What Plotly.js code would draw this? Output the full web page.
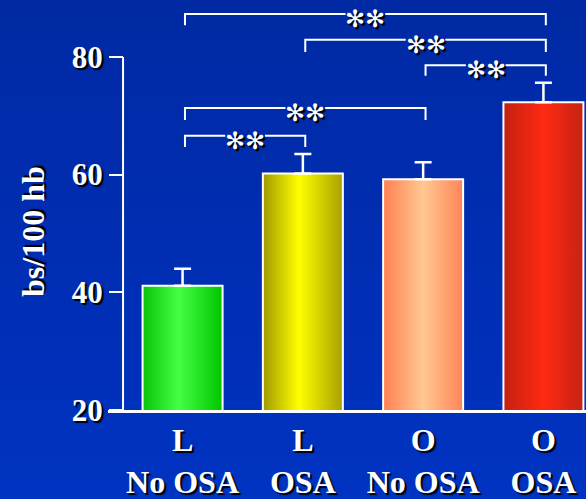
<!DOCTYPE html>
<html>
<head>
<meta charset="utf-8">
<script src="https://cdn.plot.ly/plotly-3.0.1.min.js"></script>
<style>
  html, body { margin:0; padding:0; }
  body { width:586px; height:499px; background: linear-gradient(to bottom, #0029a3, #0033c2); overflow:hidden; }
  #chart { width:586px; height:499px; }
</style>
</head>
<body>
<div id="chart"></div>
<script>
// ---- data ----
const categories = ['L<br>No OSA', 'L<br>OSA', 'O<br>No OSA', 'O<br>OSA'];
const means = [41.1, 60.2, 59.2, 72.3];
const semUp = [2.9, 3.3, 2.9, 3.3];
const yTicks = [20, 40, 60, 80];
// significance comparisons: [from index, to index]
const comparisons = [[0, 3], [1, 3], [2, 3], [0, 2], [0, 1]];
const sigLabels = ['**', '**', '**', '**', '**'];
// bracket heights (value units): top line and end of the drop
const bracketTop = [87.3, 82.9, 78.6, 71.3, 66.6];
const bracketEnd = [85.4, 80.85, 76.8, 69.3, 64.7];

// ---- styles ----
const midColors = ['#3cf83c', '#f4f400', '#ffbf8a', '#fa2a12'];
const gradients = [
  [['0', '#08c408'], ['0.45', '#44ff44'], ['1', '#00c400']],
  [['0', '#a09a00'], ['0.45', '#ffff00'], ['1', '#a8a000']],
  [['0', '#ff7f50'], ['0.5', '#ffc892'], ['1', '#ff8456']],
  [['0', '#c42010'], ['0.5', '#ff2a12'], ['1', '#c62212']]
];
const serif = 'Liberation Serif, Times New Roman, serif';
const shadow = '2px 2px 1px #000';
const xIdx = categories.map((_, i) => i);
const off = 0.02, gap = 0.165;

const shapes = [];
const annotations = [];
comparisons.forEach((c, k) => {
  const x0 = c[0] + off, x1 = c[1] + off, mid = (x0 + x1) / 2;
  const t = bracketTop[k], e = bracketEnd[k];
  shapes.push({
    type: 'path', xref: 'x', yref: 'y',
    path: `M ${x0},${e} L ${x0},${t} L ${mid - gap},${t} M ${mid + gap},${t} L ${x1},${t} L ${x1},${e}`,
    line: {color: 'white', width: 2}
  });
  annotations.push({
    x: mid, y: t, xref: 'x', yref: 'y', text: sigLabels[k].replace(/\*/g, '\u273B'),
    showarrow: false, yshift: -5,
    font: {family: 'DejaVu Sans', size: 24, color: 'white', shadow: shadow}
  });
});
// y axis line from 20 to 80
shapes.push({type: 'line', xref: 'x', yref: 'y', x0: -0.495, x1: -0.495, y0: yTicks[0], y1: yTicks[yTicks.length - 1],
  line: {color: 'white', width: 2}});

annotations.push({
  xref: 'paper', yref: 'paper', x: (33 - 108) / 478, y: (410 - 232) / 410, xanchor: 'center', yanchor: 'middle',
  text: 'bs/100 hb', textangle: -90, showarrow: false,
  font: {family: serif, size: 32, color: 'white', weight: 'bold', shadow: shadow}
});

const trace = {
  type: 'bar', x: xIdx, y: means, width: 0.665,
  marker: {color: midColors, line: {color: 'white', width: 2}},
  error_y: {type: 'data', symmetric: false, array: semUp, arrayminus: semUp.map(() => 0),
    color: 'white', thickness: 2.5, width: 8.5},
  hoverinfo: 'none'
};

const layout = {
  width: 586, height: 499,
  margin: {l: 108, r: 0, t: 0, b: 89},
  paper_bgcolor: 'rgba(0,0,0,0)', plot_bgcolor: 'rgba(0,0,0,0)',
  showlegend: false,
  xaxis: {
    range: [-0.62, 3.354], tickvals: xIdx, ticktext: categories,
    showline: true, linecolor: 'white', linewidth: 2.5, ticks: '', showgrid: false, zeroline: false,
    tickfont: {family: serif, size: 32, color: 'white', weight: 'bold', shadow: shadow},
    ticklabelstandoff: 0, fixedrange: true
  },
  yaxis: {
    range: [20, 89.67], tickvals: yTicks, anchor: 'free', position: 15 / 478,
    showline: false, ticks: 'outside', ticklen: 14, tickwidth: 2, tickcolor: 'white',
    showgrid: false, zeroline: false,
    tickfont: {family: serif, size: 31, color: 'white', weight: 'bold', shadow: shadow},
    fixedrange: true
  },
  shapes: shapes,
  annotations: annotations
};

Plotly.newPlot('chart', [trace], layout, {staticPlot: true, displayModeBar: false}).then(gd => {
  const svg = gd.querySelector('svg.main-svg');
  const ns = 'http://www.w3.org/2000/svg';
  let defs = svg.querySelector('defs');
  if (!defs) { defs = document.createElementNS(ns, 'defs'); svg.insertBefore(defs, svg.firstChild); }
  gradients.forEach((stops, i) => {
    const g = document.createElementNS(ns, 'linearGradient');
    g.setAttribute('id', 'barGrad' + i);
    g.setAttribute('x1', '0'); g.setAttribute('x2', '1'); g.setAttribute('y1', '0'); g.setAttribute('y2', '0');
    stops.forEach(s => {
      const st = document.createElementNS(ns, 'stop');
      st.setAttribute('offset', s[0]); st.setAttribute('stop-color', s[1]);
      g.appendChild(st);
    });
    defs.appendChild(g);
  });
  const paths = gd.querySelectorAll('.barlayer .point path');
  paths.forEach((p, i) => { p.style.fill = 'url(#barGrad' + i + ')'; });
});
</script>
</body>
</html>
